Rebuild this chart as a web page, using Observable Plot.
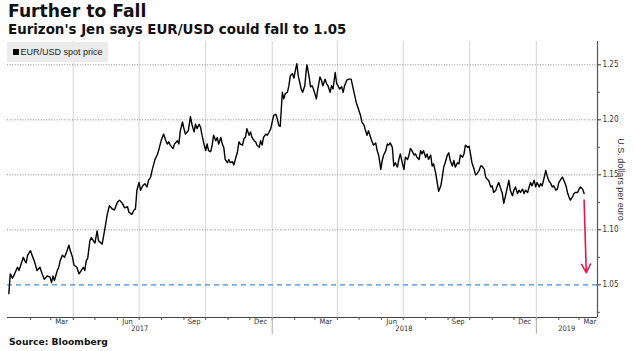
<!DOCTYPE html>
<html>
<head>
<meta charset="utf-8">
<script src="https://cdn.jsdelivr.net/npm/d3@7"></script>
<script src="https://cdn.jsdelivr.net/npm/@observablehq/plot@0.6"></script>
<style>
  html, body { margin: 0; padding: 0; background: #fff; }
  #wrap { position: relative; width: 635px; height: 351px; overflow: hidden; background: #fff; }
  .abs { position: absolute; white-space: nowrap; }
  #title { left: 8px; top: 3px; font: bold 17.2px/17.2px "DejaVu Sans", sans-serif; color: #111; }
  #subtitle { left: 8px; top: 23.4px; font: bold 13.4px/13.4px "DejaVu Sans", sans-serif; color: #111; }
  #chart { left: 0; top: 38px; }
  #legend { left: 7px; top: 42.3px; width: 101px; height: 19.4px; background: #ebebeb; display: flex; align-items: center; }
  #legend .sw { width: 5.5px; height: 5.5px; background: #000; margin-left: 6.3px; margin-right: 1.6px; }
  #legend .lb { font: 9px "Liberation Sans", Arial, sans-serif; color: #222; }
  #source { left: 9px; top: 337px; font: bold 9.2px/9.2px "DejaVu Sans", sans-serif; color: #111; }
</style>
</head>
<body>
<div id="wrap">
  <div id="title" class="abs">Further to Fall</div>
  <div id="subtitle" class="abs">Eurizon's Jen says EUR/USD could fall to 1.05</div>
  <div id="chart" class="abs"></div>
  <div id="legend" class="abs"><div class="sw"></div><div class="lb">EUR/USD spot price</div></div>
  <div id="source" class="abs">Source: Bloomberg</div>
</div>
<script>
// ---- data ----
// days since 2017-01-01 (UTC)
const dayIndex = [
  1,2,3,6,9,13,15,18,21,23,25,27,31,33,36,40,44,47,50,54,58,60,62,64,68,70,72,75,78,81,84,86,89,91,95,98,101,104,106,108,110,113,115,118,120,
  123,125,130,134,137,140,144,147,151,154,158,161,165,167,171,174,176,178,181,183,186,189,192,194,197,199,203,206,208,211,213,215,218,220,222,224,228,230,234,236,238,241,243,245,249,252,
  254,257,259,261,264,266,268,271,273,275,277,280,282,284,287,289,291,294,296,298,300,303,305,307,310,312,314,317,319,321,324,326,328,330,333,335,337,340,342,344,347,349,351,353,356,358,360,363,365,367,370,372,374,376,379,381,
  383,386,388,390,393,395,397,399,401,403,405,407,410,412,413,416,418,420,422,426,428,431,433,435,438,440,442,445,447,449,452,454,456,458,461,463,465,468,471,474,476,479,481,484,487,489,492,494,496,498,501,503,505,508,510,512,514,515,517,519,
  522,524,526,528,531,533,535,538,540,542,545,547,549,552,554,556,558,561,563,565,568,570,572,574,577,579,581,584,586,588,591,593,595,598,600,602,604,607,609,611,614,616,618,621,623,625,628,630,632,635,637,639,641,644,
  646,648,651,653,655,658,660,662,664,667,669,671,674,676,678,681,683,685,688,690,692,694,697,699,701,704,706,708,711,713,715,718,720,722,724,727,729,731,734,736,738,741,743,745,747,750,752,754,757,759,761,764,766,768,771,773,775,777,780,782,784,787,789,791,794,796
];
const spotPrice = [
  1.042,1.051,1.060,1.056,1.060,1.066,1.063,1.069,1.075,1.072,1.070,1.077,1.081,1.077,1.072,1.063,1.066,1.060,1.055,1.058,1.057,1.052,1.058,1.054,1.063,1.066,1.072,1.077,1.075,1.080,1.086,1.081,1.075,1.068,1.066,1.060,1.063,1.066,1.063,1.072,1.074,1.090,1.093,1.090,1.088,
  1.099,1.090,1.087,1.102,1.114,1.122,1.119,1.118,1.125,1.127,1.124,1.120,1.121,1.116,1.114,1.118,1.119,1.136,1.143,1.136,1.140,1.142,1.139,1.145,1.148,1.154,1.164,1.168,1.172,1.180,1.184,1.187,1.181,1.178,1.180,1.177,1.174,1.178,1.181,1.178,1.190,1.198,1.192,1.187,1.190,1.203,
  1.196,1.189,1.196,1.192,1.196,1.193,1.186,1.177,1.172,1.178,1.172,1.171,1.177,1.186,1.181,1.184,1.178,1.184,1.178,1.175,1.164,1.161,1.164,1.161,1.162,1.159,1.164,1.171,1.180,1.178,1.177,1.183,1.184,1.192,1.186,1.189,1.184,1.181,1.180,1.177,1.175,1.181,1.177,1.184,1.187,1.186,1.188,1.192,1.198,1.204,1.205,1.201,1.195,1.194,1.225,1.219,
  1.224,1.225,1.231,1.240,1.242,1.238,1.245,1.251,1.240,1.234,1.228,1.225,1.231,1.245,1.250,1.239,1.230,1.231,1.228,1.219,1.228,1.239,1.236,1.231,1.237,1.233,1.231,1.225,1.231,1.228,1.243,1.233,1.231,1.228,1.230,1.225,1.231,1.236,1.237,1.237,1.231,1.222,1.216,1.210,1.204,1.198,1.195,1.190,1.186,1.190,1.184,1.180,1.177,1.179,1.172,1.168,1.160,1.155,1.163,1.168,
  1.172,1.178,1.177,1.179,1.175,1.158,1.161,1.157,1.164,1.169,1.160,1.155,1.166,1.164,1.168,1.174,1.172,1.168,1.169,1.166,1.164,1.172,1.169,1.172,1.166,1.169,1.164,1.168,1.158,1.160,1.151,1.143,1.135,1.140,1.148,1.157,1.161,1.168,1.170,1.163,1.158,1.163,1.157,1.161,1.160,1.168,1.166,1.169,1.177,1.175,1.176,1.169,1.161,1.155,
  1.150,1.151,1.154,1.158,1.158,1.155,1.148,1.146,1.145,1.139,1.140,1.134,1.136,1.140,1.143,1.137,1.133,1.124,1.133,1.139,1.145,1.136,1.131,1.136,1.139,1.133,1.136,1.134,1.137,1.133,1.136,1.134,1.139,1.143,1.140,1.145,1.139,1.143,1.139,1.142,1.140,1.148,1.154,1.149,1.145,1.142,1.139,1.140,1.136,1.137,1.143,1.146,1.148,1.145,1.140,1.134,1.130,1.127,1.130,1.133,1.134,1.134,1.137,1.139,1.137,1.133
];
const targetLevel = 1.05;
// annotation arrow: [start, end] in days since 2017-01-01 and price
const arrowDays = [796, 799];
const arrowPrices = [1.127, 1.061];

const yMajorTicks = [1.05, 1.10, 1.15, 1.20, 1.25];
const yMinorTicks = [1.025, 1.075, 1.125, 1.175, 1.225];
const gridYValues = [1.10, 1.15, 1.20, 1.25];
const quarterGrid = ["2017-04-01","2017-07-01","2017-10-01","2018-01-01","2018-04-01","2018-07-01","2018-10-01","2019-01-01"];
const monthLabels = ["Mar","Jun","Sep","Dec","Mar","Jun","Sep","Dec","Mar"];
const monthLabelDates = ["2017-03-16","2017-06-15","2017-09-15","2017-12-16","2018-03-16","2018-06-15","2018-09-15","2018-12-16","2019-03-16"];
const yearLabels = ["2017","2018","2019"];
const yearLabelDates = ["2017-07-02","2018-07-02","2019-02-12"];
const yearSeparators = ["2018-01-01","2019-01-01"];
const yLabel = "U.S. dollars per euro";

// ---- build ----
const t0 = Date.UTC(2017, 0, 1);
const toDate = d => new Date(t0 + d * 864e5);
const iso = s => new Date(s + "T00:00:00Z");
const data = dayIndex.map((d, i) => ({date: toDate(d), value: spotPrice[i]}));
const arrow = [{x1: toDate(arrowDays[0]), y1: arrowPrices[0], x2: toDate(arrowDays[1]), y2: arrowPrices[1]}];
const monthTicks = d3.utcMonth.range(iso("2017-02-01"), iso("2019-03-02"));

const xDomain = [new Date(Date.UTC(2016, 11, 31, 4)), new Date(Date.UTC(2019, 2, 26, 12))];
const yDomain = [1.0203, 1.2712];

const narrow = '"Liberation Sans Narrow", "Arial Narrow", "DejaVu Sans Condensed", sans-serif';

const chart = Plot.plot({
  width: 635,
  height: 300,
  marginTop: 3,
  marginBottom: 21,
  marginLeft: 7,
  marginRight: 38,
  style: {background: "transparent", color: "#333", fontFamily: '"Liberation Sans", Arial, sans-serif', overflow: "visible"},
  x: {type: "utc", domain: xDomain},
  y: {domain: yDomain},
  marks: [
    Plot.gridX(quarterGrid.map(iso), {stroke: "#d4d4d4", strokeOpacity: 1, strokeWidth: 1}),
    Plot.gridY(gridYValues, {stroke: "#8a8a8a", strokeOpacity: 1, strokeWidth: 1, strokeDasharray: "1,1.6"}),
    Plot.ruleY([targetLevel], {stroke: "#3b8de0", strokeWidth: 1.4, strokeDasharray: "5,4"}),
    Plot.line(data, {x: "date", y: "value", stroke: "#000", strokeWidth: 1.4, strokeLinejoin: "round"}),
    Plot.arrow(arrow, {x1: "x1", y1: "y1", x2: "x2", y2: "y2", stroke: "#e3194c", strokeWidth: 1.6, headLength: 9, headAngle: 55, bend: 0}),
    // axes lines
    Plot.ruleY([yDomain[0]], {stroke: "#444", strokeWidth: 1}),
    Plot.ruleX([xDomain[1]], {stroke: "#555", strokeWidth: 1.2}),
    // right axis
    Plot.axisY(yMajorTicks, {anchor: "right", tickSize: 3, tickPadding: 2, tickFormat: d => d.toFixed(2), fontSize: 8, fontFamily: narrow, stroke: "#333", fill: "#333", label: null}),
    Plot.axisY(yMinorTicks, {anchor: "right", tickSize: 2, tickFormat: () => "", stroke: "#555", label: null}),
    Plot.text([yLabel], {frameAnchor: "right", textAnchor: "middle", lineAnchor: "middle", rotate: 90, dx: 23.5, fontSize: 9, fill: "#333"}),
    // bottom axis
    Plot.axisX(monthTicks, {anchor: "bottom", tickSize: 3, tickFormat: () => "", stroke: "#555", label: null}),
    Plot.axisX(yearSeparators.map(iso), {anchor: "bottom", tickSize: 17, tickFormat: () => "", stroke: "#aaa", label: null}),
    Plot.text(monthLabelDates.map(iso), {x: d => d, text: (d, i) => monthLabels[i], frameAnchor: "bottom", dy: 6, fontSize: 7.5, fontFamily: narrow, fill: "#333"}),
    Plot.text(yearLabelDates.map(iso), {x: d => d, text: (d, i) => yearLabels[i], frameAnchor: "bottom", dy: 13.8, fontSize: 7.5, fontFamily: narrow, fill: "#333"})
  ]
});
document.getElementById("chart").appendChild(chart);
</script>
</body>
</html>
